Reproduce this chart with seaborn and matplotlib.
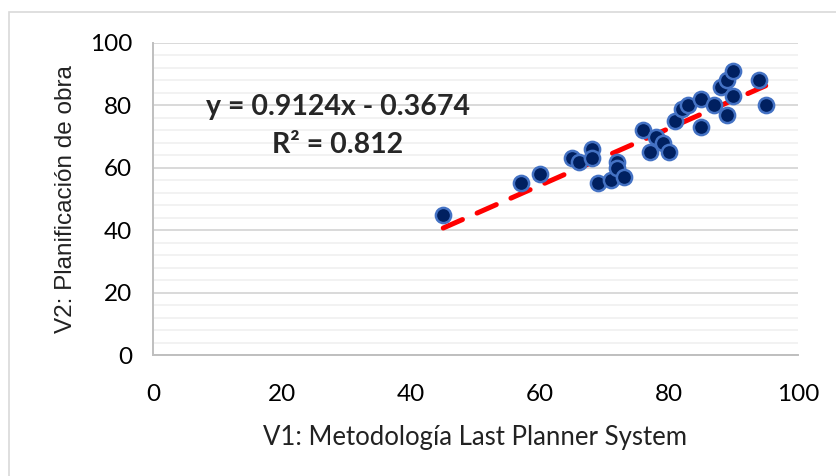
import matplotlib
matplotlib.use("Agg")
import matplotlib.pyplot as plt
from matplotlib.patches import Rectangle
from matplotlib.ticker import MultipleLocator
import numpy as np
import pandas as pd
import seaborn as sns

# V1 (Last Planner System) vs V2 (Planificación de obra)
v1 = [45, 57, 60, 65, 66, 68, 68, 69, 71, 72, 72, 73, 76, 77, 78,
      79, 80, 81, 82, 83, 85, 85, 87, 88, 89, 89, 90, 90, 94, 95]
v2 = [45, 55, 58, 63, 62, 66, 63, 55, 56, 62, 60, 57, 72, 65, 70,
      68, 65, 75, 79, 80, 82, 73, 80, 86, 88, 77, 91, 83, 88, 80]

slope = 0.9124
intercept = -0.3674
r2 = 0.812

x_label = "V1: Metodología Last Planner System"
y_label = "V2: Planificación de obra"

df = pd.DataFrame({"v1": v1, "v2": v2})

sns.set_theme(style="white")
plt.rcParams["font.family"] = ["Lato", "DejaVu Sans"]

fig = plt.figure(figsize=(8.36, 4.76), dpi=100)
ax = fig.add_axes([0.183, 0.2542, 0.9545 - 0.183, 0.9097 - 0.2542])

# marco gris del gráfico
fig.patches.append(Rectangle((9 / 836, -0.1), 1.2, 1 - 12 / 476 + 0.1,
                             transform=fig.transFigure, fill=False,
                             edgecolor="#D9D9D9", linewidth=1.2, zorder=0))

sns.scatterplot(data=df, x="v1", y="v2", ax=ax, s=120,
                color="#002060", edgecolor="#4472C4", linewidth=1.8, zorder=4)

xs = np.array([min(v1), max(v1)])
ax.plot(xs, slope * xs + intercept, color="#FF0000", linewidth=3.6,
        linestyle=(0, (4.2, 3.2)), dash_capstyle="round", zorder=3)

ax.set_xlim(0, 100)
ax.set_ylim(0, 100)
ax.xaxis.set_major_locator(MultipleLocator(20))
ax.yaxis.set_major_locator(MultipleLocator(20))
ax.yaxis.set_minor_locator(MultipleLocator(4))
ax.grid(axis="y", which="major", color="#D9D9D9", linewidth=1.4)
ax.grid(axis="y", which="minor", color="#F2F2F2", linewidth=1.4)
ax.grid(axis="x", visible=False)
ax.set_axisbelow(True)

for side in ["top", "right"]:
    ax.spines[side].set_visible(False)
for side in ["left", "bottom"]:
    ax.spines[side].set_color("#BFBFBF")
    ax.spines[side].set_linewidth(1.4)

ax.tick_params(axis="both", which="major", direction="out", length=6,
               width=1.2, color="#BFBFBF", labelsize=17.5, labelcolor="black")
ax.tick_params(axis="x", pad=15)
ax.tick_params(axis="y", pad=9)
ax.tick_params(axis="y", which="minor", length=0)

ax.set_xlabel(x_label, fontsize=18.5, labelpad=14, color="#222222")
ax.set_ylabel(y_label, fontsize=17.5, labelpad=9, color="#222222",
              family=["Liberation Sans", "DejaVu Sans"])

ax.text(338 / 836, 1 - 107 / 476, f"y = {slope}x - {abs(intercept)}",
        transform=fig.transFigure, ha="center", va="center",
        fontsize=20.5, fontweight="bold")
ax.text(338 / 836, 1 - 145 / 476, f"R² = {r2}",
        transform=fig.transFigure, ha="center", va="center",
        fontsize=20.5, fontweight="bold")

fig.savefig("out.png", dpi=100)
